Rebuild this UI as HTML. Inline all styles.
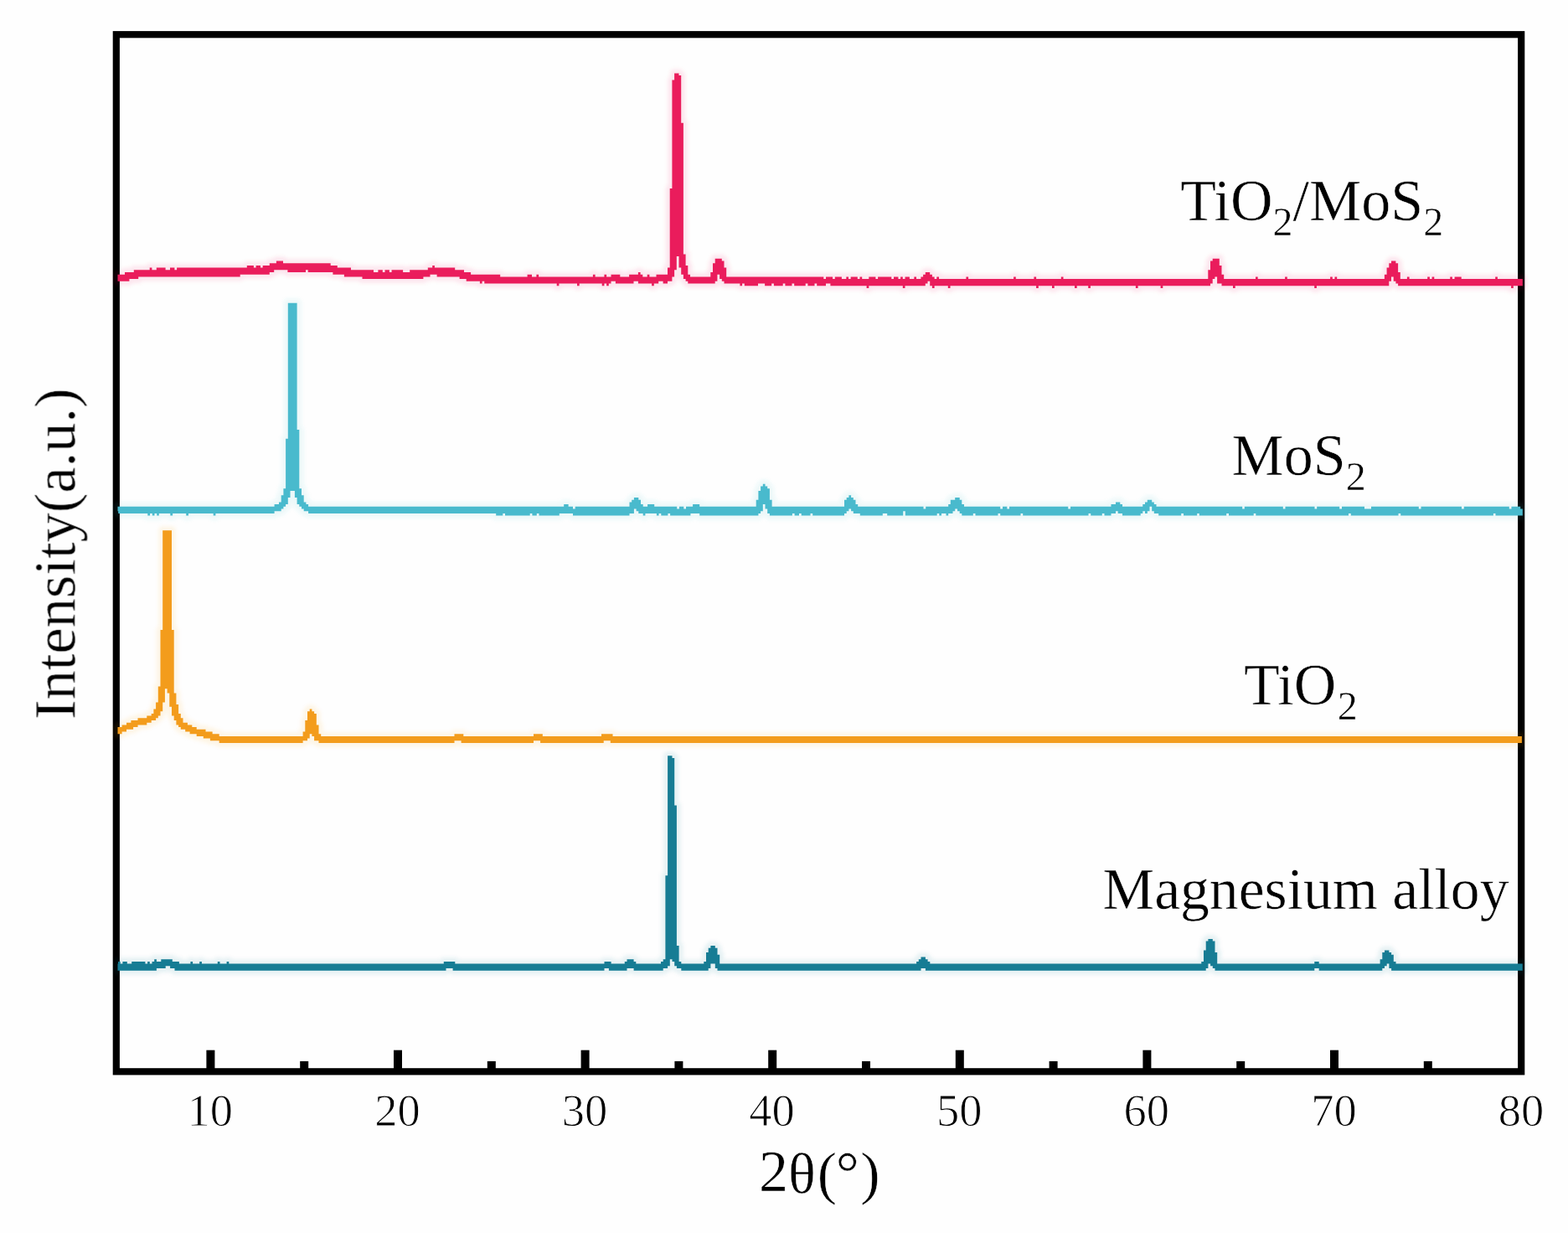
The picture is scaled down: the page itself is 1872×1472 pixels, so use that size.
<!DOCTYPE html>
<html lang="en">
<head>
<meta charset="utf-8">
<title>XRD patterns</title>
<style>
html,body{margin:0;padding:0;background:#fefefe;}
body{width:1872px;height:1472px;overflow:hidden;}
svg{display:block;}
text{font-family:"Liberation Serif","DejaVu Serif",serif;fill:#000;}
.halo{fill:none;stroke-width:10;stroke-linejoin:round;stroke-opacity:0.09;}
.lab{font-size:70px;stroke:#fefefe;stroke-width:0.5px;}
.sub{font-size:48px;}
.soft{filter:url(#tb);}
.tick{font-size:54.5px;text-anchor:middle;stroke:#fefefe;stroke-width:0.9px;}
</style>
</head>
<body>
<svg width="1872" height="1472" viewBox="0 0 1872 1472">
<defs><filter id="hb" x="-2%" y="-2%" width="104%" height="104%"><feGaussianBlur stdDeviation="2.2"/></filter><filter id="tb" x="-5%" y="-5%" width="110%" height="110%"><feGaussianBlur stdDeviation="0.6"/></filter><filter id="sb" x="-1%" y="-1%" width="102%" height="102%"><feGaussianBlur stdDeviation="0.55"/></filter></defs>
<rect x="0" y="0" width="1872" height="1472" fill="#fefefe"/>
<g class="soft"><rect x="138.8" y="41.2" width="1677.4" height="1238.1" fill="none" stroke="#000" stroke-width="8.2"/>
<g fill="#000"><rect x="246.4" y="1253.7" width="10" height="24"/><rect x="358.2" y="1266.9" width="10" height="11"/><rect x="470.0" y="1253.7" width="10" height="24"/><rect x="581.8" y="1266.9" width="10" height="11"/><rect x="693.6" y="1253.7" width="10" height="24"/><rect x="805.4" y="1266.9" width="10" height="11"/><rect x="917.2" y="1253.7" width="10" height="24"/><rect x="1029.0" y="1266.9" width="10" height="11"/><rect x="1140.8" y="1253.7" width="10" height="24"/><rect x="1252.6" y="1266.9" width="10" height="11"/><rect x="1364.4" y="1253.7" width="10" height="24"/><rect x="1476.2" y="1266.9" width="10" height="11"/><rect x="1588.0" y="1253.7" width="10" height="24"/><rect x="1699.8" y="1266.9" width="10" height="11"/></g></g>
<g filter="url(#hb)"><path class="halo" stroke="#167c94" d="M140.5 1158.7V1150.6H141V1147.9H143.7V1150.6H146.4V1147.9H151.8V1150.6H157.2V1147.9H173.4V1150.6H176.1V1147.9H178.8V1150.6H181.5V1147.9H184.2V1145.2H186.9V1147.9H192.3V1145.2H205.8V1147.9H213.9V1150.6H227.4V1147.9H230.1V1150.6H238.2V1147.9H240.9V1150.6H259.8V1147.9H262.5V1150.6H270.6V1147.9H273.3V1150.6H529.8V1147.9H543.3V1150.6H721.5V1147.9H729.6V1150.6H745.8V1147.9H748.5V1145.2H756.6V1147.9H759.3V1150.6H789V1147.9H791.7V1145.2H794.4V1045.3H797.1V902.2H802.5V904.9H805.2V961.6H807.9V1129H810.6V1147.9H813.3V1150.6H840.3V1147.9H843V1137.1H845.7V1131.7H848.4V1129H853.8V1131.7H856.5V1139.8H859.2V1150.6H1094.1V1147.9H1096.8V1145.2H1099.5V1142.5H1104.9V1145.2H1107.6V1147.9H1110.3V1150.6H1434.3V1147.9H1437V1134.4H1439.7V1123.6H1442.4V1120.9H1447.8V1123.6H1450.5V1137.1H1453.2V1150.6H1569.3V1147.9H1574.7V1150.6H1647.6V1145.2H1650.3V1137.1H1653V1134.4H1658.4V1137.1H1661.1V1139.8H1663.8V1147.9H1666.5V1150.6H1817.7V1158.7H1661.1V1156H1658.4V1150.6H1655.7V1153.3H1653V1156H1650.3V1158.7H1574.7V1156H1569.3V1158.7H1450.5V1156H1447.8V1153.3H1445.1V1150.6H1442.4V1156H1439.7V1158.7H1104.9V1156H1099.5V1158.7H856.5V1156H853.8V1150.6H848.4V1156H845.7V1158.7H813.3V1156H807.9V1153.3H805.2V1147.9H802.5V1145.2H799.8V1153.3H797.1V1156H791.7V1158.7H756.6V1156H748.5V1158.7H726.9V1156H721.5V1158.7H540.6V1156H532.5V1158.7H208.5V1156H203.1V1153.3H197.7V1156H186.9V1158.7H140.5Z"/>
<path class="halo" stroke="#f39c1a" d="M140.5 876.2V868.1H145.6V865.4H151V862.7H156.4V860H164.5V857.3H175.3V854.6H180.7V851.9H183.4V846.5H186.1V838.4H188.8V819.5H191.5V752H194.2V633.2H205V752H207.7V827.6H210.4V841.1H213.1V851.9H215.8V857.3H218.5V862.7H223.9V865.4H229.3V868.1H234.7V870.8H245.5V873.5H253.6V876.2H261.7V878.9H361.6V873.5H364.3V860H367V849.2H369.7V846.5H372.4V849.2H375.1V851.9H377.8V865.4H380.5V876.2H383.2V878.9H542.5V876.2H553.3V878.9H637V876.2H647.8V878.9H718V876.2H731.5V878.9H1816.9V887H728.8V884.3H720.7V887H645.1V884.3H637V887H550.6V884.3H542.5V887H380.5V884.3H375.1V878.9H372.4V876.2H369.7V881.6H367V884.3H361.6V887H261.7V884.3H250.9V881.6H242.8V878.9H234.7V876.2H226.6V873.5H221.2V870.8H215.8V868.1H213.1V865.4H210.4V860H207.7V854.6H205V843.8H202.3V827.6H199.6V822.2H196.9V838.4H194.2V849.2H191.5V854.6H188.8V857.3H186.1V860H180.7V862.7H175.3V865.4H164.5V868.1H159.1V870.8H151V873.5H145.6V876.2H140.5Z"/>
<path class="halo" stroke="#48bacd" d="M140.5 610.2V604.8H327.6V602.1H333V599.4H335.7V591.3H338.4V583.2H341.1V523.8H343.8V361.8H354.6V513H357.3V583.2H360V591.3H362.7V599.4H365.4V602.1H368.1V604.8H673.2V602.1H678.6V604.8H684V607.5H686.7V604.8H751.5V599.4H754.2V596.7H756.9V594H762.3V596.7H765V602.1H767.7V604.8H773.1V602.1H781.2V604.8H808.2V607.5H810.9V604.8H816.3V607.5H819V604.8H827.1V602.1H835.2V604.8H902.7V596.7H905.4V585.9H908.1V580.5H910.8V577.8H913.5V580.5H916.2V583.2H918.9V596.7H921.6V604.8H1008V596.7H1010.7V594H1013.4V591.3H1016.1V594H1018.8V596.7H1021.5V602.1H1024.2V604.8H1102.5V607.5H1105.2V604.8H1132.2V602.1H1134.8V596.7H1140.2V594H1145.7V596.7H1148.3V602.1H1151V604.8H1194.2V607.5H1197V604.8H1202.3V607.5H1205V604.8H1275.2V607.5H1278V604.8H1326.5V602.1H1332V599.4H1337.3V602.1H1340V604.8H1364.3V602.1H1367V599.4H1369.8V596.7H1375.2V599.4H1377.8V602.1H1380.5V604.8H1483.2V607.5H1485.8V604.8H1531.8V607.5H1534.5V604.8H1569.5V607.5H1572.2V604.8H1599.2V607.5H1602V604.8H1629V607.5H1637V604.8H1693.8V607.5H1696.5V604.8H1745V607.5H1747.8V604.8H1801.8V607.5H1804.5V604.8H1815.2V607.5H1817.8V615.6H1785.5V612.9H1782.9V615.6H1672.2V612.9H1669.5V615.6H1612.8V612.9H1610V615.6H1499.3V612.9H1496.7V615.6H1467V612.9H1464.2V615.6H1431.8V612.9H1429.2V615.6H1413V612.9H1410.2V615.6H1383.2V612.9H1377.8V610.2H1375.2V604.8H1372.5V610.2H1369.8V612.9H1367V610.2H1364.3V612.9H1361.7V615.6H1340V612.9H1334.7V610.2H1332V612.9H1326.5V615.6H1318.5V612.9H1315.8V615.6H1302.2V612.9H1299.5V615.6H1221.2V612.9H1218.5V615.6H1194.2V612.9H1191.5V615.6H1164.5V612.9H1161.8V615.6H1148.3V612.9H1145.7V610.2H1143V607.5H1140.2V610.2H1137.5V612.9H1132.2V615.6H1129.5V612.9H1124V615.6H1121.3V612.9H1118.7V615.6H1080.8V610.2H1078.2V615.6H1059.2V612.9H1053.8V615.6H1026.8V612.9H1018.8V610.2H1016.1V607.5H1013.4V610.2H1010.7V612.9H1008V615.6H970.2V612.9H967.5V615.6H956.7V612.9H954V615.6H948.6V612.9H945.9V615.6H918.9V612.9H916.2V607.5H913.5V602.1H910.8V610.2H908.1V612.9H905.4V615.6H835.2V612.9H824.4V615.6H800.1V612.9H797.4V615.6H789.3V612.9H786.6V615.6H783.9V612.9H770.4V615.6H767.7V612.9H762.3V610.2H759.6V607.5H756.9V612.9H751.5V615.6H684V612.9H667.8V615.6H643.5V612.9H640.8V615.6H635.4V612.9H632.7V615.6H603V612.9H600.3V615.6H592.2V612.9H368.1V610.2H362.7V607.5H360V604.8H357.3V602.1H354.6V594H351.9V585.9H346.5V594H343.8V602.1H341.1V604.8H338.4V607.5H335.7V610.2H327.6V612.9H257.4V615.6H254.7V612.9H225V615.6H222.2V612.9H206.1V615.6H203.3V612.9H189.8V615.6H187.2V612.9H184.5V615.6H181.8V612.9H179.1V615.6H176.3V612.9H141.2V610.2H140.5Z"/>
<path class="halo" stroke="#ea1f5c" d="M140.5 335.8V327.7H149V325H159.8V322.3H178.7V319.6H181.4V322.3H186.8V319.6H197.6V322.3H203V319.6H208.4V322.3H211.1V319.6H294.8V316.9H302.9V319.6H305.6V316.9H311V319.6H313.7V316.9H321.8V314.2H329.9V311.5H338V314.2H394.7V316.9H402.8V319.6H419V322.3H446V325H451.4V322.3H456.8V325H459.5V322.3H464.9V325H467.6V322.3H481.1V325H489.2V322.3H510.8V319.6H516.2V316.9H518.9V319.6H543.2V322.3H554V325H562.1V327.7H597.2V330.4H629.6V327.7H635V330.4H640.4V327.7H643.1V330.4H707.9V327.7H710.6V330.4H721.4V327.7H724.1V330.4H729.5V327.7H740.3V330.4H751.1V327.7H761.9V325H764.6V327.7H767.3V330.4H772.7V327.7H775.4V330.4H783.5V327.7H797V319.6H799.7V225.1H802.4V95.5H805.1V87.4H810.5V90.1H813.2V146.8H815.9V303.4H818.6V316.9H821.3V327.7H824V330.4H848.3V325H851V314.2H853.7V308.8H861.8V311.5H864.5V319.6H867.2V330.4H983.3V333.1H986V330.4H994.1V333.1H996.8V330.4H1004.9V333.1H1010.3V330.4H1013V333.1H1015.7V330.4H1023.8V333.1H1026.5V330.4H1029.2V333.1H1037.3V330.4H1045.4V333.1H1048.1V330.4H1064.3V333.1H1067V330.4H1072.4V333.1H1075.1V330.4H1077.8V333.1H1080.5V330.4H1085.9V333.1H1091.3V330.4H1094V333.1H1099.4V330.4H1102.1V327.7H1104.8V325H1110.2V327.7H1112.9V330.4H1115.6V333.1H1118.3V330.4H1121V333.1H1153.4V330.4H1156.1V333.1H1210.1V330.4H1212.8V333.1H1234.4V330.4H1237.1V333.1H1266.8V330.4H1269.5V333.1H1442.3V322.3H1445V311.5H1447.7V308.8H1455.8V316.9H1458.5V327.7H1461.2V333.1H1499V330.4H1501.7V333.1H1534.1V330.4H1536.8V333.1H1588.1V330.4H1590.8V333.1H1593.5V330.4H1596.2V333.1H1652.9V327.7H1655.6V319.6H1658.3V314.2H1661V311.5H1666.4V314.2H1669.1V325H1671.8V333.1H1679.9V330.4H1682.6V333.1H1704.2V330.4H1706.9V333.1H1709.6V330.4H1712.3V333.1H1731.2V330.4H1733.9V333.1H1736.6V330.4H1744.7V333.1H1785.2V330.4H1787.9V333.1H1817.8V341.2H1806.8V343.9H1804.1V341.2H1669.1V338.5H1666.4V335.8H1663.7V330.4H1661V335.8H1658.3V341.2H1571.9V343.9H1569.2V341.2H1474.7V343.9H1472V341.2H1458.5V338.5H1453.1V330.4H1450.4V333.1H1447.7V338.5H1445V341.2H1388.3V343.9H1385.6V341.2H1358.6V343.9H1355.9V341.2H1301.9V343.9H1299.2V341.2H1285.7V343.9H1283V341.2H1258.7V343.9H1256V341.2H1239.8V343.9H1237.1V341.2H1134.5V343.9H1131.8V341.2H1115.6V343.9H1112.9V341.2H1110.2V335.8H1107.5V338.5H1104.8V341.2H1080.5V343.9H1077.8V341.2H1037.3V343.9H1034.6V341.2H991.4V338.5H986V341.2H975.2V338.5H972.5V341.2H964.4V338.5H961.7V341.2H948.2V338.5H945.5V341.2H937.4V338.5H934.7V341.2H923.9V338.5H921.2V341.2H913.1V338.5H905V341.2H888.8V338.5H886.1V341.2H883.4V338.5H864.5V335.8H861.8V333.1H859.1V327.7H856.4V335.8H853.7V338.5H821.3V335.8H818.6V333.1H815.9V327.7H813.2V319.6H810.5V306.1H807.8V322.3H805.1V330.4H802.4V335.8H797V338.5H791.6V335.8H786.2V338.5H780.8V341.2H778.1V338.5H761.9V335.8H756.5V338.5H734.9V335.8H729.5V338.5H726.8V341.2H724.1V338.5H721.4V341.2H718.7V338.5H691.7V341.2H689V338.5H667.4V341.2H664.7V338.5H578.3V335.8H575.6V338.5H572.9V335.8H556.7V333.1H548.6V330.4H521.6V327.7H513.5V330.4H505.4V333.1H432.5V330.4H410.9V327.7H397.4V325H367.7V322.3H365V325H343.4V322.3H327.2V325H321.8V327.7H286.7V330.4H165.2V333.1H154.4V335.8H140.5Z"/>
</g>
<g filter="url(#sb)"><path fill="#167c94" d="M140.5 1158.7V1150.6H141V1147.9H143.7V1150.6H146.4V1147.9H151.8V1150.6H157.2V1147.9H173.4V1150.6H176.1V1147.9H178.8V1150.6H181.5V1147.9H184.2V1145.2H186.9V1147.9H192.3V1145.2H205.8V1147.9H213.9V1150.6H227.4V1147.9H230.1V1150.6H238.2V1147.9H240.9V1150.6H259.8V1147.9H262.5V1150.6H270.6V1147.9H273.3V1150.6H529.8V1147.9H543.3V1150.6H721.5V1147.9H729.6V1150.6H745.8V1147.9H748.5V1145.2H756.6V1147.9H759.3V1150.6H789V1147.9H791.7V1145.2H794.4V1045.3H797.1V902.2H802.5V904.9H805.2V961.6H807.9V1129H810.6V1147.9H813.3V1150.6H840.3V1147.9H843V1137.1H845.7V1131.7H848.4V1129H853.8V1131.7H856.5V1139.8H859.2V1150.6H1094.1V1147.9H1096.8V1145.2H1099.5V1142.5H1104.9V1145.2H1107.6V1147.9H1110.3V1150.6H1434.3V1147.9H1437V1134.4H1439.7V1123.6H1442.4V1120.9H1447.8V1123.6H1450.5V1137.1H1453.2V1150.6H1569.3V1147.9H1574.7V1150.6H1647.6V1145.2H1650.3V1137.1H1653V1134.4H1658.4V1137.1H1661.1V1139.8H1663.8V1147.9H1666.5V1150.6H1817.7V1158.7H1661.1V1156H1658.4V1150.6H1655.7V1153.3H1653V1156H1650.3V1158.7H1574.7V1156H1569.3V1158.7H1450.5V1156H1447.8V1153.3H1445.1V1150.6H1442.4V1156H1439.7V1158.7H1104.9V1156H1099.5V1158.7H856.5V1156H853.8V1150.6H848.4V1156H845.7V1158.7H813.3V1156H807.9V1153.3H805.2V1147.9H802.5V1145.2H799.8V1153.3H797.1V1156H791.7V1158.7H756.6V1156H748.5V1158.7H726.9V1156H721.5V1158.7H540.6V1156H532.5V1158.7H208.5V1156H203.1V1153.3H197.7V1156H186.9V1158.7H140.5Z"/>
<path fill="#f39c1a" d="M140.5 876.2V868.1H145.6V865.4H151V862.7H156.4V860H164.5V857.3H175.3V854.6H180.7V851.9H183.4V846.5H186.1V838.4H188.8V819.5H191.5V752H194.2V633.2H205V752H207.7V827.6H210.4V841.1H213.1V851.9H215.8V857.3H218.5V862.7H223.9V865.4H229.3V868.1H234.7V870.8H245.5V873.5H253.6V876.2H261.7V878.9H361.6V873.5H364.3V860H367V849.2H369.7V846.5H372.4V849.2H375.1V851.9H377.8V865.4H380.5V876.2H383.2V878.9H542.5V876.2H553.3V878.9H637V876.2H647.8V878.9H718V876.2H731.5V878.9H1816.9V887H728.8V884.3H720.7V887H645.1V884.3H637V887H550.6V884.3H542.5V887H380.5V884.3H375.1V878.9H372.4V876.2H369.7V881.6H367V884.3H361.6V887H261.7V884.3H250.9V881.6H242.8V878.9H234.7V876.2H226.6V873.5H221.2V870.8H215.8V868.1H213.1V865.4H210.4V860H207.7V854.6H205V843.8H202.3V827.6H199.6V822.2H196.9V838.4H194.2V849.2H191.5V854.6H188.8V857.3H186.1V860H180.7V862.7H175.3V865.4H164.5V868.1H159.1V870.8H151V873.5H145.6V876.2H140.5Z"/>
<path fill="#48bacd" d="M140.5 610.2V604.8H327.6V602.1H333V599.4H335.7V591.3H338.4V583.2H341.1V523.8H343.8V361.8H354.6V513H357.3V583.2H360V591.3H362.7V599.4H365.4V602.1H368.1V604.8H673.2V602.1H678.6V604.8H684V607.5H686.7V604.8H751.5V599.4H754.2V596.7H756.9V594H762.3V596.7H765V602.1H767.7V604.8H773.1V602.1H781.2V604.8H808.2V607.5H810.9V604.8H816.3V607.5H819V604.8H827.1V602.1H835.2V604.8H902.7V596.7H905.4V585.9H908.1V580.5H910.8V577.8H913.5V580.5H916.2V583.2H918.9V596.7H921.6V604.8H1008V596.7H1010.7V594H1013.4V591.3H1016.1V594H1018.8V596.7H1021.5V602.1H1024.2V604.8H1102.5V607.5H1105.2V604.8H1132.2V602.1H1134.8V596.7H1140.2V594H1145.7V596.7H1148.3V602.1H1151V604.8H1194.2V607.5H1197V604.8H1202.3V607.5H1205V604.8H1275.2V607.5H1278V604.8H1326.5V602.1H1332V599.4H1337.3V602.1H1340V604.8H1364.3V602.1H1367V599.4H1369.8V596.7H1375.2V599.4H1377.8V602.1H1380.5V604.8H1483.2V607.5H1485.8V604.8H1531.8V607.5H1534.5V604.8H1569.5V607.5H1572.2V604.8H1599.2V607.5H1602V604.8H1629V607.5H1637V604.8H1693.8V607.5H1696.5V604.8H1745V607.5H1747.8V604.8H1801.8V607.5H1804.5V604.8H1815.2V607.5H1817.8V615.6H1785.5V612.9H1782.9V615.6H1672.2V612.9H1669.5V615.6H1612.8V612.9H1610V615.6H1499.3V612.9H1496.7V615.6H1467V612.9H1464.2V615.6H1431.8V612.9H1429.2V615.6H1413V612.9H1410.2V615.6H1383.2V612.9H1377.8V610.2H1375.2V604.8H1372.5V610.2H1369.8V612.9H1367V610.2H1364.3V612.9H1361.7V615.6H1340V612.9H1334.7V610.2H1332V612.9H1326.5V615.6H1318.5V612.9H1315.8V615.6H1302.2V612.9H1299.5V615.6H1221.2V612.9H1218.5V615.6H1194.2V612.9H1191.5V615.6H1164.5V612.9H1161.8V615.6H1148.3V612.9H1145.7V610.2H1143V607.5H1140.2V610.2H1137.5V612.9H1132.2V615.6H1129.5V612.9H1124V615.6H1121.3V612.9H1118.7V615.6H1080.8V610.2H1078.2V615.6H1059.2V612.9H1053.8V615.6H1026.8V612.9H1018.8V610.2H1016.1V607.5H1013.4V610.2H1010.7V612.9H1008V615.6H970.2V612.9H967.5V615.6H956.7V612.9H954V615.6H948.6V612.9H945.9V615.6H918.9V612.9H916.2V607.5H913.5V602.1H910.8V610.2H908.1V612.9H905.4V615.6H835.2V612.9H824.4V615.6H800.1V612.9H797.4V615.6H789.3V612.9H786.6V615.6H783.9V612.9H770.4V615.6H767.7V612.9H762.3V610.2H759.6V607.5H756.9V612.9H751.5V615.6H684V612.9H667.8V615.6H643.5V612.9H640.8V615.6H635.4V612.9H632.7V615.6H603V612.9H600.3V615.6H592.2V612.9H368.1V610.2H362.7V607.5H360V604.8H357.3V602.1H354.6V594H351.9V585.9H346.5V594H343.8V602.1H341.1V604.8H338.4V607.5H335.7V610.2H327.6V612.9H257.4V615.6H254.7V612.9H225V615.6H222.2V612.9H206.1V615.6H203.3V612.9H189.8V615.6H187.2V612.9H184.5V615.6H181.8V612.9H179.1V615.6H176.3V612.9H141.2V610.2H140.5Z"/>
<path fill="#ea1f5c" d="M140.5 335.8V327.7H149V325H159.8V322.3H178.7V319.6H181.4V322.3H186.8V319.6H197.6V322.3H203V319.6H208.4V322.3H211.1V319.6H294.8V316.9H302.9V319.6H305.6V316.9H311V319.6H313.7V316.9H321.8V314.2H329.9V311.5H338V314.2H394.7V316.9H402.8V319.6H419V322.3H446V325H451.4V322.3H456.8V325H459.5V322.3H464.9V325H467.6V322.3H481.1V325H489.2V322.3H510.8V319.6H516.2V316.9H518.9V319.6H543.2V322.3H554V325H562.1V327.7H597.2V330.4H629.6V327.7H635V330.4H640.4V327.7H643.1V330.4H707.9V327.7H710.6V330.4H721.4V327.7H724.1V330.4H729.5V327.7H740.3V330.4H751.1V327.7H761.9V325H764.6V327.7H767.3V330.4H772.7V327.7H775.4V330.4H783.5V327.7H797V319.6H799.7V225.1H802.4V95.5H805.1V87.4H810.5V90.1H813.2V146.8H815.9V303.4H818.6V316.9H821.3V327.7H824V330.4H848.3V325H851V314.2H853.7V308.8H861.8V311.5H864.5V319.6H867.2V330.4H983.3V333.1H986V330.4H994.1V333.1H996.8V330.4H1004.9V333.1H1010.3V330.4H1013V333.1H1015.7V330.4H1023.8V333.1H1026.5V330.4H1029.2V333.1H1037.3V330.4H1045.4V333.1H1048.1V330.4H1064.3V333.1H1067V330.4H1072.4V333.1H1075.1V330.4H1077.8V333.1H1080.5V330.4H1085.9V333.1H1091.3V330.4H1094V333.1H1099.4V330.4H1102.1V327.7H1104.8V325H1110.2V327.7H1112.9V330.4H1115.6V333.1H1118.3V330.4H1121V333.1H1153.4V330.4H1156.1V333.1H1210.1V330.4H1212.8V333.1H1234.4V330.4H1237.1V333.1H1266.8V330.4H1269.5V333.1H1442.3V322.3H1445V311.5H1447.7V308.8H1455.8V316.9H1458.5V327.7H1461.2V333.1H1499V330.4H1501.7V333.1H1534.1V330.4H1536.8V333.1H1588.1V330.4H1590.8V333.1H1593.5V330.4H1596.2V333.1H1652.9V327.7H1655.6V319.6H1658.3V314.2H1661V311.5H1666.4V314.2H1669.1V325H1671.8V333.1H1679.9V330.4H1682.6V333.1H1704.2V330.4H1706.9V333.1H1709.6V330.4H1712.3V333.1H1731.2V330.4H1733.9V333.1H1736.6V330.4H1744.7V333.1H1785.2V330.4H1787.9V333.1H1817.8V341.2H1806.8V343.9H1804.1V341.2H1669.1V338.5H1666.4V335.8H1663.7V330.4H1661V335.8H1658.3V341.2H1571.9V343.9H1569.2V341.2H1474.7V343.9H1472V341.2H1458.5V338.5H1453.1V330.4H1450.4V333.1H1447.7V338.5H1445V341.2H1388.3V343.9H1385.6V341.2H1358.6V343.9H1355.9V341.2H1301.9V343.9H1299.2V341.2H1285.7V343.9H1283V341.2H1258.7V343.9H1256V341.2H1239.8V343.9H1237.1V341.2H1134.5V343.9H1131.8V341.2H1115.6V343.9H1112.9V341.2H1110.2V335.8H1107.5V338.5H1104.8V341.2H1080.5V343.9H1077.8V341.2H1037.3V343.9H1034.6V341.2H991.4V338.5H986V341.2H975.2V338.5H972.5V341.2H964.4V338.5H961.7V341.2H948.2V338.5H945.5V341.2H937.4V338.5H934.7V341.2H923.9V338.5H921.2V341.2H913.1V338.5H905V341.2H888.8V338.5H886.1V341.2H883.4V338.5H864.5V335.8H861.8V333.1H859.1V327.7H856.4V335.8H853.7V338.5H821.3V335.8H818.6V333.1H815.9V327.7H813.2V319.6H810.5V306.1H807.8V322.3H805.1V330.4H802.4V335.8H797V338.5H791.6V335.8H786.2V338.5H780.8V341.2H778.1V338.5H761.9V335.8H756.5V338.5H734.9V335.8H729.5V338.5H726.8V341.2H724.1V338.5H721.4V341.2H718.7V338.5H691.7V341.2H689V338.5H667.4V341.2H664.7V338.5H578.3V335.8H575.6V338.5H572.9V335.8H556.7V333.1H548.6V330.4H521.6V327.7H513.5V330.4H505.4V333.1H432.5V330.4H410.9V327.7H397.4V325H367.7V322.3H365V325H343.4V322.3H327.2V325H321.8V327.7H286.7V330.4H165.2V333.1H154.4V335.8H140.5Z"/>
</g>
<g class="soft">
<g class="tick"><text x="250.8" y="1344.3">10</text><text x="474.4" y="1344.3">20</text><text x="698.0" y="1344.3">30</text><text x="921.6" y="1344.3">40</text><text x="1145.2" y="1344.3">50</text><text x="1368.8" y="1344.3">60</text><text x="1592.4" y="1344.3">70</text><text x="1816.0" y="1344.3">80</text></g>
<text class="lab" x="1409.2" y="262.7">TiO<tspan class="sub" dy="18.5">2</tspan><tspan dy="-18.5">/MoS</tspan><tspan class="sub" dy="18.5">2</tspan></text>
<text class="lab" x="1470.5" y="566.6">MoS<tspan class="sub" dy="18.5">2</tspan></text>
<text class="lab" x="1485" y="840.7">TiO<tspan class="sub" dy="18.5" dx="1.5">2</tspan></text>
<text class="lab" x="1316.3" y="1085.1" style="font-size:69.6px">Magnesium alloy</text>
<text class="lab" x="906" y="1421.6">2<tspan dy="2" style="font-size:68.5px">θ</tspan><tspan dx="2">(</tspan><tspan dy="-1" dx="-1.5">°</tspan><tspan dy="1" dx="1.5">)</tspan></text>
<text class="lab" transform="translate(89.4 661.2) rotate(-90)" text-anchor="middle" style="font-size:70.5px">Intensity(a.u.)</text>
</g>
</svg>
</body>
</html>
